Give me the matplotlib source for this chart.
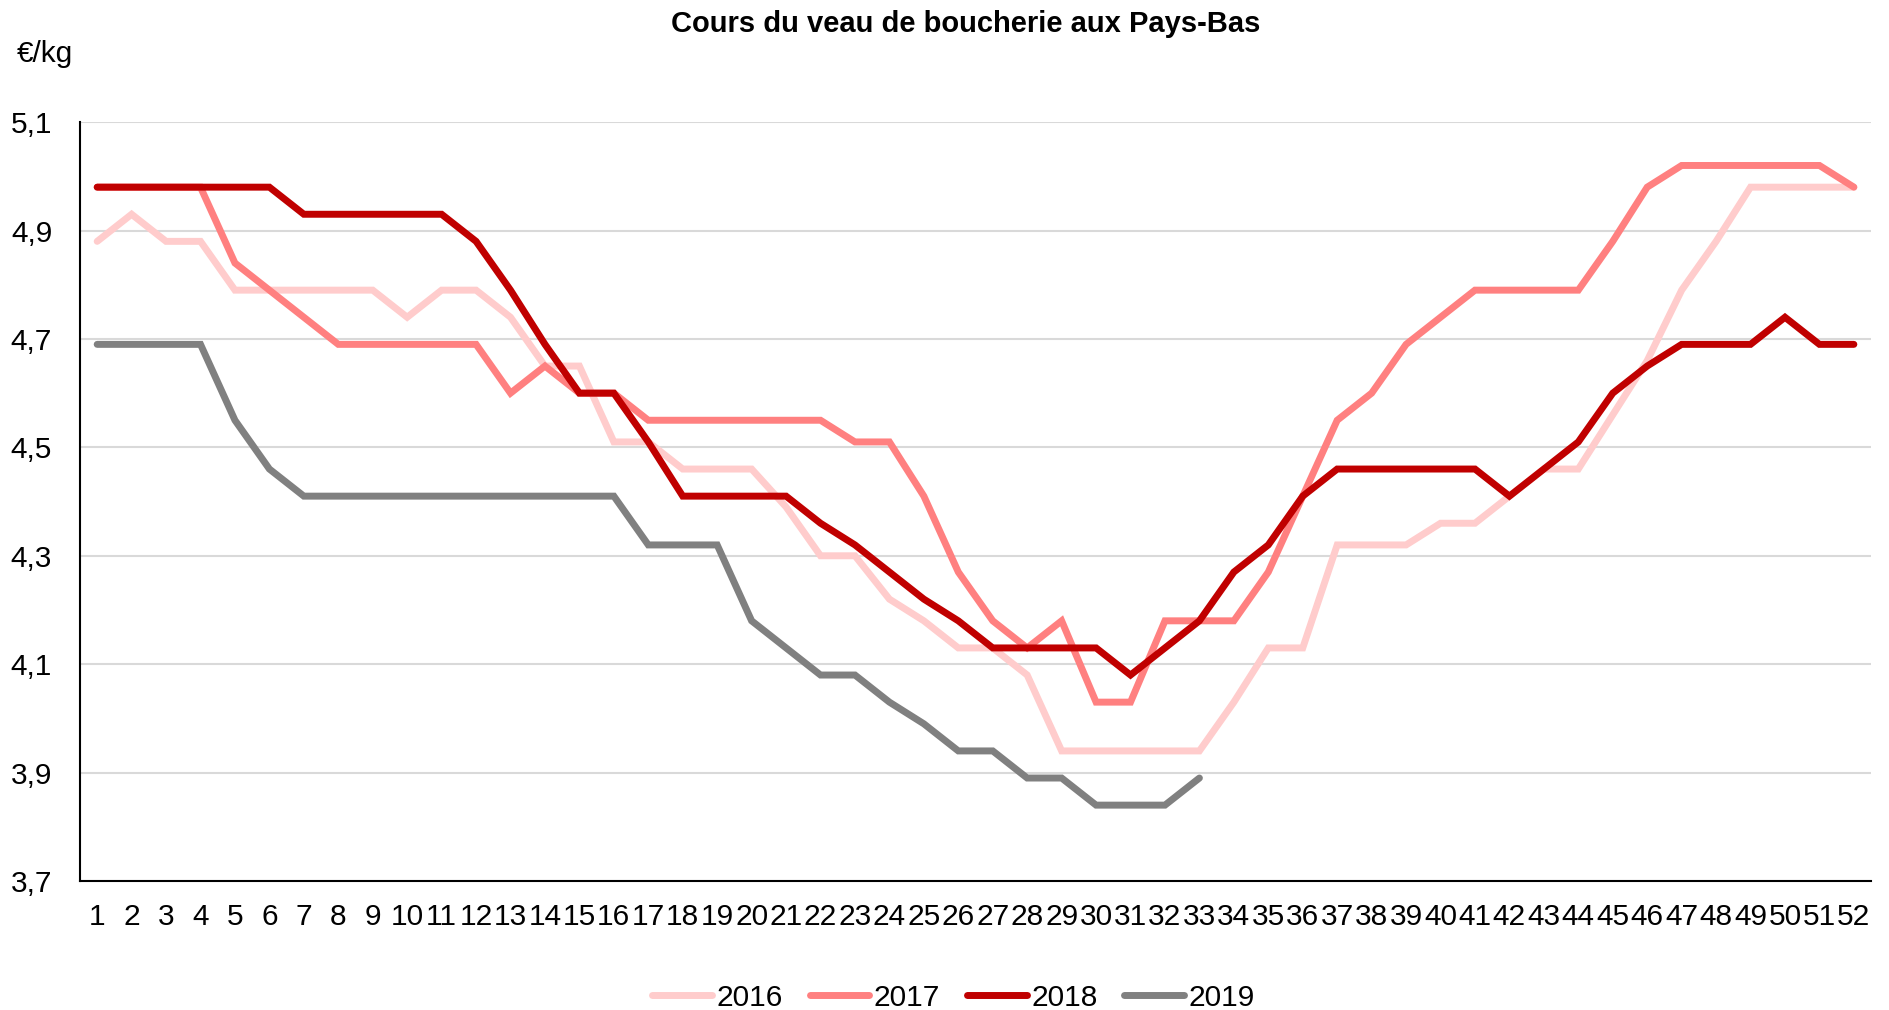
import matplotlib
matplotlib.use("Agg")
import matplotlib.pyplot as plt
import numpy as np

plt.rcParams['font.family'] = ['Liberation Sans', 'DejaVu Sans']

weeks = list(range(1, 53))

prix_2016 = [4.88, 4.93, 4.88, 4.88, 4.79, 4.79, 4.79, 4.79, 4.79, 4.74,
             4.79, 4.79, 4.74, 4.65, 4.65, 4.51, 4.51, 4.46, 4.46, 4.46,
             4.39, 4.30, 4.30, 4.22, 4.18, 4.13, 4.13, 4.08, 3.94, 3.94,
             3.94, 3.94, 3.94, 4.03, 4.13, 4.13, 4.32, 4.32, 4.32, 4.36,
             4.36, 4.41, 4.46, 4.46, 4.56, 4.66, 4.79, 4.88, 4.98, 4.98,
             4.98, 4.98]
prix_2017 = [4.98, 4.98, 4.98, 4.98, 4.84, 4.79, 4.74, 4.69, 4.69, 4.69,
             4.69, 4.69, 4.60, 4.65, 4.60, 4.60, 4.55, 4.55, 4.55, 4.55,
             4.55, 4.55, 4.51, 4.51, 4.41, 4.27, 4.18, 4.13, 4.18, 4.03,
             4.03, 4.18, 4.18, 4.18, 4.27, 4.41, 4.55, 4.60, 4.69, 4.74,
             4.79, 4.79, 4.79, 4.79, 4.88, 4.98, 5.02, 5.02, 5.02, 5.02,
             5.02, 4.98]
prix_2018 = [4.98, 4.98, 4.98, 4.98, 4.98, 4.98, 4.93, 4.93, 4.93, 4.93,
             4.93, 4.88, 4.79, 4.69, 4.60, 4.60, 4.51, 4.41, 4.41, 4.41,
             4.41, 4.36, 4.32, 4.27, 4.22, 4.18, 4.13, 4.13, 4.13, 4.13,
             4.08, 4.13, 4.18, 4.27, 4.32, 4.41, 4.46, 4.46, 4.46, 4.46,
             4.46, 4.41, 4.46, 4.51, 4.60, 4.65, 4.69, 4.69, 4.69, 4.74,
             4.69, 4.69]
prix_2019 = [4.69, 4.69, 4.69, 4.69, 4.55, 4.46, 4.41, 4.41, 4.41, 4.41,
             4.41, 4.41, 4.41, 4.41, 4.41, 4.41, 4.32, 4.32, 4.32, 4.18,
             4.13, 4.08, 4.08, 4.03, 3.99, 3.94, 3.94, 3.89, 3.89, 3.84,
             3.84, 3.84, 3.89]

series = [("2016", prix_2016, "#FFCCCC"),
          ("2017", prix_2017, "#FF8080"),
          ("2018", prix_2018, "#C00000"),
          ("2019", prix_2019, "#808080")]

yticks = [3.7, 3.9, 4.1, 4.3, 4.5, 4.7, 4.9, 5.1]

fig = plt.figure(figsize=(18.9, 10.1), dpi=100)
ax = fig.add_axes([0.0423, 0.1277, 0.9477, 0.7514])

for label, vals, col in series:
    ax.plot(weeks[:len(vals)], vals, color=col, lw=5.0, label=label,
            solid_capstyle='round', solid_joinstyle='miter')

ax.set_xlim(0.5, 52.5)
ax.set_ylim(3.7, 5.1)
ax.set_xticks(weeks)
ax.set_xticklabels([str(w) for w in weeks])
ax.set_yticks(yticks)
ax.set_yticklabels([("%.1f" % v).replace('.', ',') for v in yticks])
ax.tick_params(axis='both', length=0, labelsize=21.5)
ax.tick_params(axis='y', pad=20)
ax.tick_params(axis='x', pad=16)

ax.grid(axis='y', color='#D9D9D9', lw=1.5)
ax.set_axisbelow(True)
for s in ['top', 'right']:
    ax.spines[s].set_visible(False)
for s in ['left', 'bottom']:
    ax.spines[s].set_color('black')
    ax.spines[s].set_linewidth(1.5)

fig.text(0.511, 0.976, "Cours du veau de boucherie aux Pays-Bas",
         ha='center', va='center', fontsize=21, fontweight='bold')
fig.text(0.009, 0.947, "€/kg", ha='left', va='center', fontsize=21.5)

fig.legend(loc='center', bbox_to_anchor=(0.5045, 0.012), ncol=4, frameon=False,
           fontsize=21.5, handlelength=2.0, columnspacing=0.9, handletextpad=0.15)

fig.savefig("out.png", dpi=100)
